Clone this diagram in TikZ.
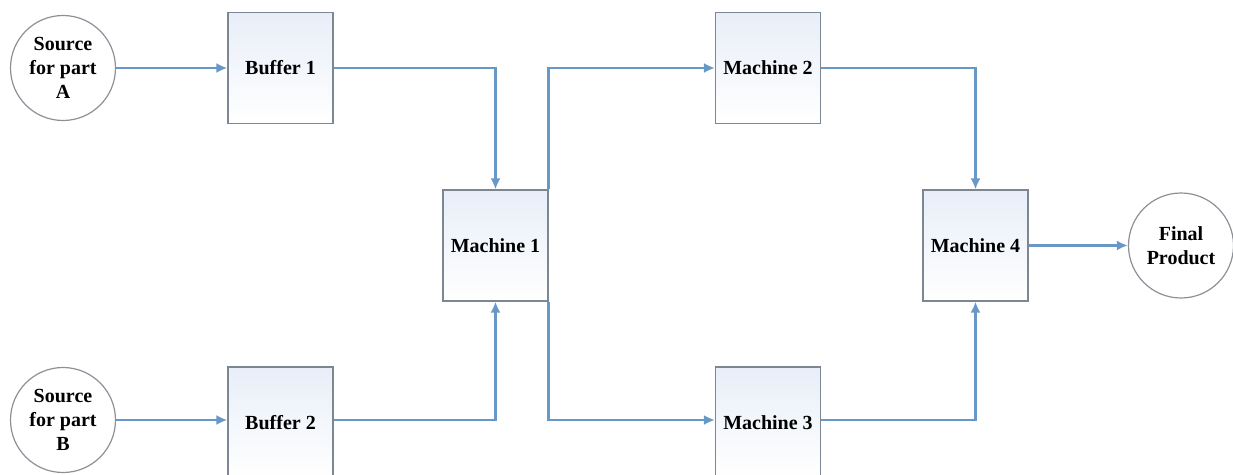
\documentclass[tikz,border=0pt]{standalone}
\usepackage{fontspec}
\setmainfont{Liberation Serif}
\usetikzlibrary{arrows.meta}
\definecolor{lineblue}{RGB}{104,152,199}
\definecolor{boxedge}{RGB}{125,135,148}
\definecolor{boxtop}{RGB}{232,238,248}
\definecolor{circedge}{RGB}{140,145,152}
\tikzset{
  proc/.style={draw=boxedge, line width=1.2pt, top color=boxtop, bottom color=white,
    minimum width=105pt, minimum height=111pt, inner sep=0pt,
    font=\fontsize{20}{24}\selectfont\bfseries, align=center},
  term/.style={circle, draw=circedge, line width=1.2pt, fill=white,
    minimum size=105pt, inner sep=0pt,
    font=\fontsize{20}{24}\selectfont\bfseries, align=center},
  flow/.style={draw=lineblue, line width=2.4pt, -{Latex[length=11pt,width=10pt]}}
}
\begin{document}
\begin{tikzpicture}[x=1pt,y=-1pt]
\useasboundingbox (0,0) rectangle (1233,474);
\node[term] (srcA) at (63,68) {Source\\for part\\A};
\node[term] (srcB) at (63,420) {Source\\for part\\B};
\node[proc] (buf1) at (280.5,68) {Buffer 1};
\node[proc] (buf2) at (280.5,422.5) {Buffer 2};
\node[proc] (m1) at (495.5,245.5) {Machine 1};
\node[proc] (m2) at (768,68) {Machine 2};
\node[proc] (m3) at (768,422.5) {Machine 3};
\node[proc] (m4) at (975.5,245.5) {Machine 4};
\node[term] (fin) at (1181,245.5) {Final\\Product};
\draw[flow] (srcA.east) -- (buf1.west);
\draw[flow] (srcB.east) -- (buf2.west |- srcB.east);
\draw[flow] (buf1.east) -| (m1.north);
\draw[flow] (buf2.east |- srcB.east) -| (m1.south);
\draw[flow] (m1.north east) |- (m2.west);
\draw[flow] (m1.south east) |- (m3.west |- srcB.east);
\draw[flow] (m2.east) -| (m4.north);
\draw[flow] (m3.east |- srcB.east) -| (m4.south);
\draw[flow] (m4.east) -- (fin.west);
\end{tikzpicture}
\end{document}
